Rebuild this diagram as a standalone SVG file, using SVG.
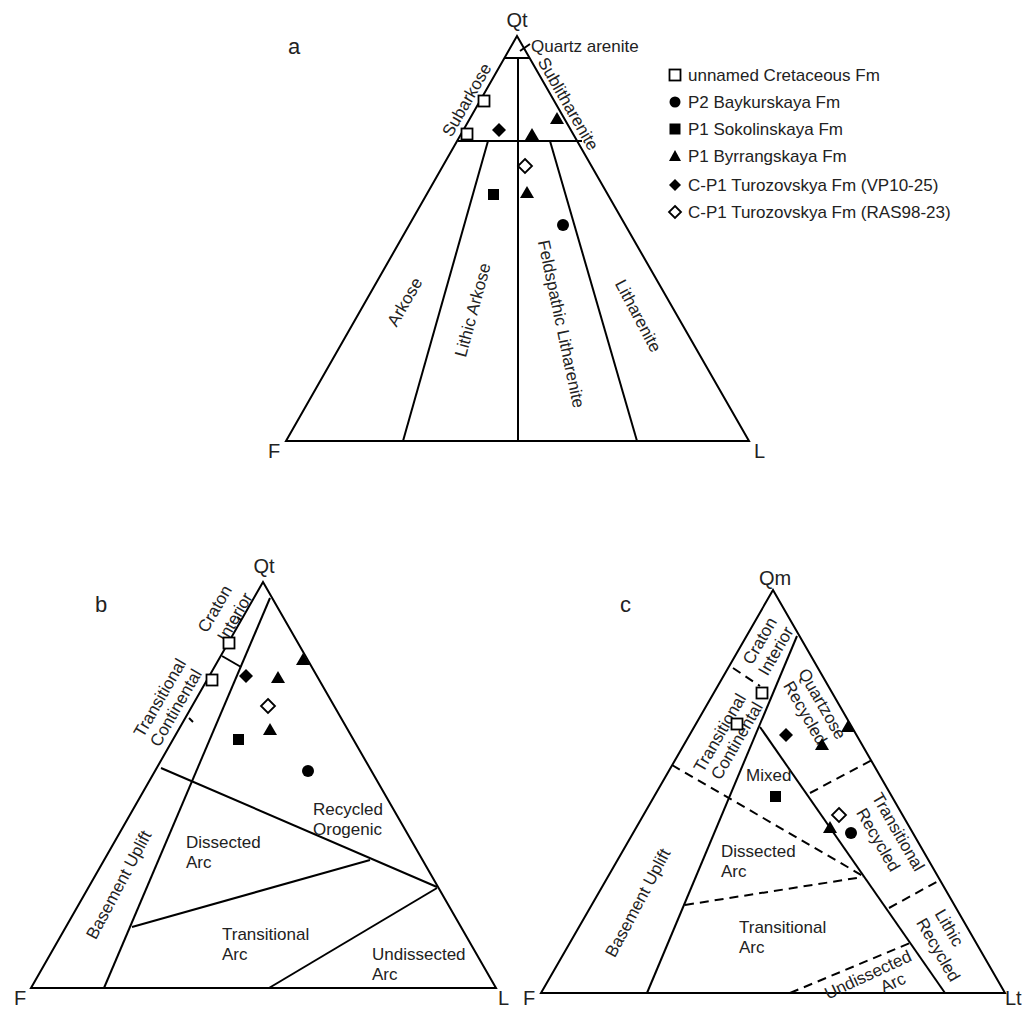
<svg xmlns="http://www.w3.org/2000/svg" width="1024" height="1010" viewBox="0 0 1024 1010">
<defs>
<style>
.l{stroke:#000;stroke-width:2;fill:none}
.d{stroke:#000;stroke-width:2;fill:none;stroke-dasharray:9 6}
text{font-family:"Liberation Sans",Arial,sans-serif;fill:#222;font-size:17px}
.ax{font-size:20px}
.pl{font-size:22px}
.c{text-anchor:middle;dominant-baseline:central}
.os{fill:#fff;stroke:#000;stroke-width:1.8}
.fs{fill:#000}
</style>
<rect id="osq" x="-5.5" y="-5.5" width="11" height="11"/>
</defs>
<rect width="1024" height="1010" fill="#fff"/>
<g id="connectors">
<polygon class="l" points="517,36 286,441 749,441"/>
<line class="l" x1="505" y1="58" x2="530" y2="58"/>
<line class="l" x1="458" y1="141" x2="582" y2="141"/>
<line class="l" x1="518" y1="58" x2="518" y2="441"/>
<line class="l" x1="488" y1="141" x2="403" y2="441"/>
<line class="l" x1="550" y1="141" x2="637" y2="441"/>
<line class="l" x1="520" y1="51" x2="530" y2="44" stroke-width="1.3"/>
<polygon class="l" points="263,582 31,988 496,988"/>
<line class="l" x1="270" y1="598" x2="104" y2="988"/>
<line class="l" x1="222" y1="656" x2="241" y2="667"/>
<line class="l" x1="189" y1="718" x2="193" y2="722"/>
<line class="l" x1="237" y1="617" x2="241" y2="620"/>
<line class="l" x1="161" y1="768" x2="437" y2="887"/>
<line class="l" x1="132" y1="927" x2="370" y2="860"/>
<line class="l" x1="269" y1="988" x2="437" y2="888"/>
<polygon class="l" points="773,590 541,993 1005,993"/>
<line class="l" x1="797" y1="636" x2="647" y2="993"/>
<line class="l" x1="760" y1="727" x2="945" y2="993"/>
<line class="d" x1="733" y1="668" x2="760" y2="686"/>
<line class="d" x1="672" y1="765" x2="863" y2="876"/>
<line class="d" x1="810" y1="793" x2="872" y2="760"/>
<line class="d" x1="685" y1="905" x2="863" y2="877"/>
<line class="d" x1="889" y1="908" x2="940" y2="880"/>
<line class="d" x1="790" y1="993" x2="910" y2="943"/>
</g>
<g id="labels-a">
<text class="ax" x="517" y="27" text-anchor="middle">Qt</text>
<text class="pl" x="288" y="54">a</text>
<text class="ax" x="268" y="458">F</text>
<text class="ax" x="754" y="458">L</text>
<text x="531" y="52">Quartz arenite</text>
<text class="c" transform="translate(467,100) rotate(-60)">Subarkose</text>
<text class="c" transform="translate(568,104) rotate(60)">Sublitharenite</text>
<text class="c" transform="translate(405,302) rotate(-60)">Arkose</text>
<text class="c" transform="translate(473,310) rotate(-75)">Lithic Arkose</text>
<text class="c" transform="translate(561,324) rotate(78)">Feldspathic Litharenite</text>
<text class="c" transform="translate(638,316) rotate(62)">Litharenite</text>
</g>
<g id="legend">
<use href="#osq" class="os" x="675" y="75"/><text x="688" y="81">unnamed Cretaceous Fm</text>
<circle cx="675" cy="102" r="5.5" class="fs"/><text x="688" y="108">P2 Baykurskaya Fm</text>
<rect x="669.5" y="123.5" width="11" height="11" class="fs"/><text x="688" y="135">P1 Sokolinskaya Fm</text>
<polygon points="675,150 681,161 669,161" class="fs"/><text x="688" y="162">P1 Byrrangskaya Fm</text>
<polygon points="675,179 681,185 675,191 669,185" class="fs"/><text x="688" y="191">C-P1 Turozovskya Fm (VP10-25)</text>
<polygon points="675,206 681,212 675,218 669,212" class="os" stroke-width="1.2"/><text x="688" y="218">C-P1 Turozovskya Fm (RAS98-23)</text>
</g>
<g id="points-a">
<use href="#osq" class="os" x="484" y="101"/><use href="#osq" class="os" x="467" y="134"/>
<polygon points="499,123 506,130 499,137 492,130" class="fs"/>
<polygon points="532,128 539,140 525,140" class="fs"/>
<polygon points="557,112 564,124 550,124" class="fs"/>
<polygon points="527,186 534,198 520,198" class="fs"/>
<polygon points="525,159 532,166 525,173 518,166" class="os" stroke-width="1.3"/>
<rect x="488" y="189" width="11" height="11" class="fs"/>
<circle cx="563" cy="225" r="6" class="fs"/>
</g>
<g id="labels-b">
<text class="ax" x="264" y="573" text-anchor="middle">Qt</text>
<text class="pl" x="95" y="612">b</text>
<text class="ax" x="14" y="1005">F</text>
<text class="ax" x="498" y="1005">L</text>
<text class="c" transform="translate(215,609) rotate(-60)">Craton</text>
<text class="c" transform="translate(235,617) rotate(-60)">Interior</text>
<text class="c" transform="translate(160,698) rotate(-60)">Transitional</text>
<text class="c" transform="translate(176,708) rotate(-60)">Continental</text>
<text class="c" transform="translate(119,885) rotate(-62)">Basement Uplift</text>
<text x="313" y="815">Recycled</text><text x="313" y="835">Orogenic</text>
<text x="186" y="848">Dissected</text><text x="186" y="868">Arc</text>
<text x="222" y="940">Transitional</text><text x="222" y="960">Arc</text>
<text x="372" y="960">Undissected</text><text x="372" y="980">Arc</text>
</g>
<g id="points-b">
<use href="#osq" class="os" x="229" y="643"/><use href="#osq" class="os" x="212" y="680"/>
<polygon points="246,669 253,676 246,683 239,676" class="fs"/>
<polygon points="303,653 310,665 296,665" class="fs"/>
<polygon points="278,671 285,683 271,683" class="fs"/>
<polygon points="270,723 277,735 263,735" class="fs"/>
<polygon points="268,699 275,706 268,713 261,706" class="os" stroke-width="1.3"/>
<rect x="233" y="734" width="11" height="11" class="fs"/>
<circle cx="308" cy="771" r="6" class="fs"/>
</g>
<g id="labels-c">
<text class="ax" x="775" y="585" text-anchor="middle">Qm</text>
<text class="pl" x="620" y="612">c</text>
<text class="ax" x="523" y="1005">F</text>
<text class="ax" x="1005" y="1005">Lt</text>
<text class="c" transform="translate(760,641) rotate(-60)">Craton</text>
<text class="c" transform="translate(776,651) rotate(-60)">Interior</text>
<text class="c" transform="translate(720,733) rotate(-60)">Transitional</text>
<text class="c" transform="translate(737,741) rotate(-60)">Continental</text>
<text class="c" transform="translate(822,704) rotate(60)">Quartzose</text>
<text class="c" transform="translate(805,713) rotate(60)">Recycled</text>
<text x="746" y="781">Mixed</text>
<text class="c" transform="translate(898,832) rotate(60)">Transitional</text>
<text class="c" transform="translate(878,840) rotate(60)">Recycled</text>
<text x="721" y="857">Dissected</text><text x="721" y="877">Arc</text>
<text x="739" y="933">Transitional</text><text x="739" y="953">Arc</text>
<text class="c" transform="translate(949,928) rotate(60)">Lithic</text>
<text class="c" transform="translate(938,950) rotate(60)">Recycled</text>
<text class="c" transform="translate(868,975) rotate(-25)">Undissected</text>
<text class="c" transform="translate(893,983) rotate(-25)">Arc</text>
<text class="c" transform="translate(638,903) rotate(-62)">Basement Uplift</text>
</g>
<g id="points-c">
<use href="#osq" class="os" x="762" y="693"/><use href="#osq" class="os" x="737" y="724"/>
<polygon points="786,728 793,735 786,742 779,735" class="fs"/>
<polygon points="848,720 855,732 841,732" class="fs"/>
<polygon points="822,738 829,750 815,750" class="fs"/>
<polygon points="830,821 837,833 823,833" class="fs"/>
<polygon points="839,808 846,815 839,822 832,815" class="os" stroke-width="1.3"/>
<rect x="770" y="791" width="11" height="11" class="fs"/>
<circle cx="851" cy="833" r="6" class="fs"/>
</g>
</svg>
